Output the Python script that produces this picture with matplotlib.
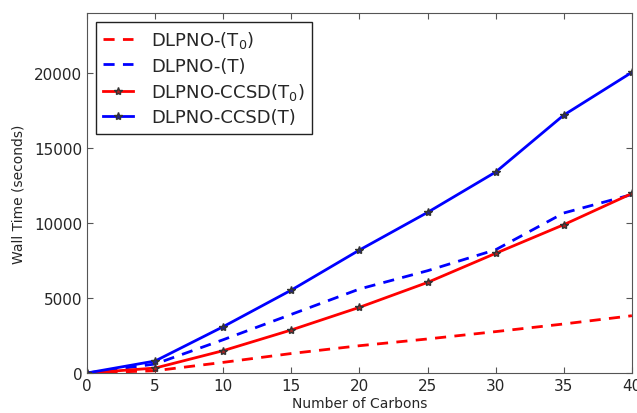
import numpy as np
from matplotlib import pyplot as plt

carbons = [0, 5, 10, 15, 20, 25, 30, 35, 40]
pt0_time = [0, 150, 710, 1300, 1820, 2270, 2760, 3270, 3820]
pt_time = [0, 600, 2220, 3910, 5600, 6820, 8220, 10670, 11900]
ccsdt0_time = [0, 330, 1490, 2870, 4380, 6040, 7980, 9890, 11970]
ccsdt_time = [0, 800, 3090, 5530, 8200, 10710, 13400, 17200, 20050]

plt.rcParams['font.family'] = ['DejaVu Sans']
plt.rcParams['xtick.direction'] = 'in'
plt.rcParams['ytick.direction'] = 'in'
plt.rcParams['text.color'] = '#262626'

fig = plt.figure(figsize=(6.37, 4.14), dpi=100)
ax = fig.add_axes([0.1366, 0.0966, 0.8554, 0.8694])
ax.plot(carbons, pt0_time, 'r--', lw=2, dashes=(4, 3), label=r'DLPNO-(T$_0$)')
ax.plot(carbons, pt_time, 'b--', lw=2, dashes=(4, 3), label='DLPNO-(T)')
ax.plot(carbons, ccsdt0_time, 'r-', lw=2, marker='*', ms=6, mec='#333333', mfc='#aa2222', label=r'DLPNO-CCSD(T$_0$)')
ax.plot(carbons, ccsdt_time, 'b-', lw=2, marker='*', ms=6, mec='#333333', mfc='#222288', label='DLPNO-CCSD(T)')
ax.set_xlim(0, 40)
ax.set_ylim(0, 24000)
ax.set_xticks(range(0, 41, 5))
ax.set_yticks(range(0, 20001, 5000))
ax.tick_params(top=True, right=True, labelsize=11, labelcolor='#262626', color='#555555', length=4)
for s in ax.spines.values():
    s.set_color('#555555')
ax.set_xlabel('Number of Carbons', fontsize=10, color='#262626', labelpad=2)
ax.set_ylabel('Wall Time (seconds)', fontsize=10, color='#262626', labelpad=6)
leg = ax.legend(loc='upper left', fontsize=13, fancybox=False, framealpha=1,
                borderpad=0.4, handlelength=1.65, labelspacing=0.35, handletextpad=1.0)
leg.get_frame().set_edgecolor('#222222')
fig.savefig('out.png', dpi=100, facecolor='white')
